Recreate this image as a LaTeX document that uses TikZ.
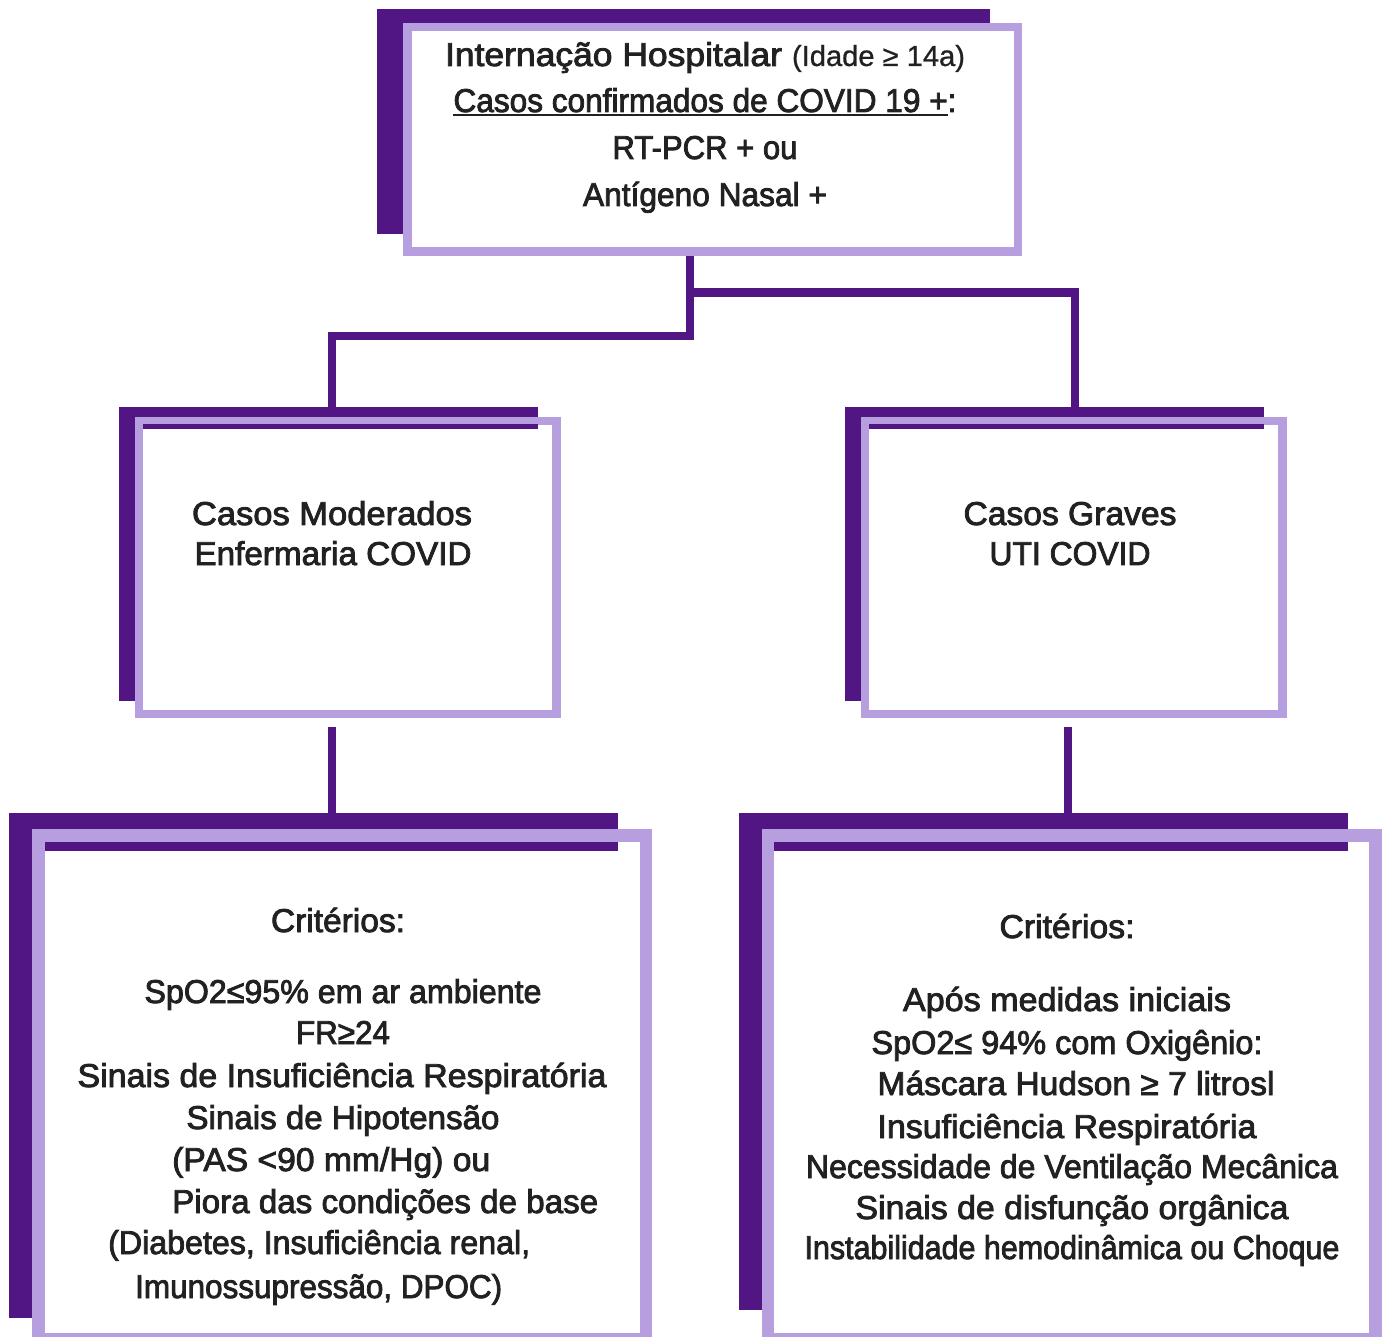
\documentclass[tikz,border=0pt]{standalone}
\usepackage{fontspec}
\usepackage{graphicx}
\setmainfont{Liberation Sans}
\newfontfamily\mainf[FakeBold=2.5]{Liberation Sans}
\newfontfamily\lightf[FakeBold=0.8]{Liberation Sans}
\definecolor{dpurple}{HTML}{521684}
\definecolor{lpurple}{HTML}{B79FDF}
\definecolor{tcol}{HTML}{212121}
\newcommand\myul[1]{\begingroup\setbox0\hbox{#1}\rlap{\rule[-3.8pt]{\wd0}{1.8pt}}\box0\endgroup}
\newcommand\fitto[2]{\resizebox{#1pt}{\height}{#2}}
\tikzset{
  darkbox/.style={rectangle,fill=dpurple,draw=none,inner sep=0pt,outer sep=0pt},
  lavbox/.style={rectangle,draw=lpurple,fill=white,inner sep=0pt},
  stripe/.style={fill=dpurple,draw=none},
  conn/.style={draw=dpurple,line width=8.5pt},
  txt/.style={text=tcol,inner sep=0pt,anchor=base,font=\mainf\fontsize{33}{38}\selectfont},
  txtl/.style={txt,anchor=base west},
}
\begin{document}
\begin{tikzpicture}[x=1pt,y=-1pt]
\useasboundingbox (0,0) rectangle (1385,1337);
\fill[white] (0,0) rectangle (1385,1337);

% top box
\node[darkbox,minimum width=612.7pt,minimum height=224.8pt] (topD) at (683.65,121.9) {};
\node[lavbox,line width=8.3pt,minimum width=610.7pt,minimum height=224.6pt] (top) at (712.8,139.2) {};

% middle boxes
\node[darkbox,minimum width=418.7pt,minimum height=294.3pt] (mlD) at (328.35,553.85) {};
\node[lavbox,line width=8.3pt,minimum width=417.4pt,minimum height=293.3pt] (mlL) at (347.85,567.5) {};
\fill[stripe] (143.3,424.3) rectangle (537.7,429);

\node[darkbox,minimum width=418.7pt,minimum height=294.3pt] (mrD) at (1054.35,553.85) {};
\node[lavbox,line width=8.3pt,minimum width=417.4pt,minimum height=293.3pt] (mrL) at (1073.85,567.5) {};
\fill[stripe] (869.3,424.3) rectangle (1263.7,429);

% bottom boxes
\node[darkbox,minimum width=609pt,minimum height=504.7pt] (blD) at (313.5,1065.35) {};
\node[lavbox,line width=12.5pt,minimum width=607.2pt,minimum height=503.5pt] (blL) at (342.15,1087) {};
\fill[stripe] (44.8,841.5) rectangle (618,850.5);

\node[darkbox,minimum width=609pt,minimum height=497pt] (brD) at (1043,1061.5) {};
\node[lavbox,line width=12.5pt,minimum width=607.2pt,minimum height=503.5pt] (brL) at (1071.65,1087) {};
\fill[stripe] (774.3,841.5) rectangle (1347.5,850.5);

% connectors
\coordinate (jt) at (690,336);
\coordinate (jl) at (332,336);
\coordinate (jr) at (1075,292.7);
\draw[conn] (top.south -| jt) -- (jt) -- (jl) -- (jl |- mlD.north);
\draw[conn] (jt |- jr) -- (jr) -- (jr |- mrD.north);
\coordinate (ja) at (332,726.7);
\coordinate (jb) at (1068,726.7);
\draw[conn] (ja) -- (ja |- blD.north);
\draw[conn] (jb) -- (jb |- brD.north);

% top texts
\node[txt] (t1) at (705,66) {\fitto{337}{Internação Hospitalar}\hspace{10pt}\fitto{173}{\lightf\fontsize{29}{32}\selectfont(Idade ≥ 14a)}};
\node[txt] (t2) at (705,112) {\fitto{503}{\myul{Casos confirmados de COVID 19 +}:}};
\node[txt] (t3) at (705,159) {\fitto{185}{RT-PCR + ou}};
\node[txt] (t4) at (705,206) {\fitto{244}{Antígeno Nasal +}};

% middle texts
\node[txt] (m1) at (332,525) {\fitto{280}{Casos Moderados}};
\node[txt] (m2) at (333,565) {\fitto{277}{Enfermaria COVID}};
\node[txt] (r1) at (1070,525) {\fitto{213}{Casos Graves}};
\node[txt] (r2) at (1070,565) {\fitto{161}{UTI COVID}};

% bottom-left texts
\node[txt] (bl0) at (338,932) {\fitto{134}{Critérios:}};
\node[txt] (bl1) at (343,1003) {\fitto{397}{SpO2≤95\% em ar ambiente}};
\node[txt] (bl2) at (343,1044) {\fitto{94}{FR≥24}};
\node[txt] (bl3) at (342,1087) {\fitto{529}{Sinais de Insuficiência Respiratória}};
\node[txt] (bl4) at (343,1129) {\fitto{313}{Sinais de Hipotensão}};
\node[txtl] (bl5) at (172,1171) {\fitto{318}{(PAS <90 mm/Hg) ou}};
\node[txtl] (bl6) at (172,1213) {\fitto{426}{Piora das condições de base}};
\node[txtl] (bl7) at (108,1254) {\fitto{422}{(Diabetes, Insuficiência renal,}};
\node[txtl] (bl8) at (135,1298) {\fitto{367}{Imunossupressão, DPOC)}};

% bottom-right texts
\node[txt] (br0) at (1067,938) {\fitto{135}{Critérios:}};
\node[txt] (br1) at (1067,1011) {\fitto{328}{Após medidas iniciais}};
\node[txt] (br2) at (1067,1054) {\fitto{391}{SpO2≤ 94\% com Oxigênio:}};
\node[txt] (br3) at (1076,1095) {\fitto{397}{Máscara Hudson ≥ 7 litrosl}};
\node[txt] (br4) at (1067,1138) {\fitto{379}{Insuficiência Respiratória}};
\node[txt] (br5) at (1072,1178) {\fitto{532}{Necessidade de Ventilação Mecânica}};
\node[txt] (br6) at (1072,1219) {\fitto{433}{Sinais de disfunção orgânica}};
\node[txt] (br7) at (1072,1259) {\fitto{535}{Instabilidade hemodinâmica ou Choque}};
\end{tikzpicture}
\end{document}
